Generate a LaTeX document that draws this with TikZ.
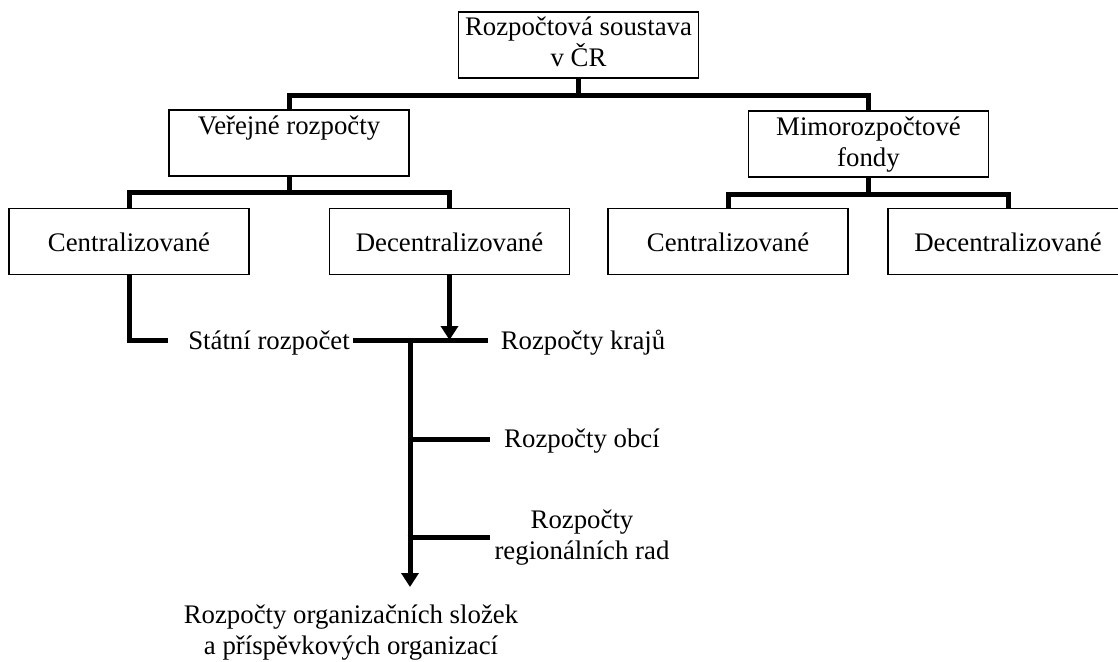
\documentclass[tikz,border=0pt]{standalone}
\usepackage{fontspec}
\setmainfont{Liberation Serif}
\usetikzlibrary{arrows.meta}
\tikzset{
  txt/.style={font=\fontsize{26.8pt}{31pt}\selectfont, inner sep=0pt, outer sep=0pt, align=center},
  tbox/.style={txt, draw, line width=1.3pt, anchor=north west},
  cbox/.style={txt, draw, line width=1.3pt, minimum width=240pt, minimum height=66pt, text height=19pt, text depth=0pt, anchor=north},
  conn/.style={line width=5pt, line join=miter, line cap=butt},
  arr/.style={conn, -{Triangle[width=17pt,length=14pt]}}
}
\newcommand{\topbox}[1]{\parbox[t][66pt][t]{240pt}{\centering\rule{0pt}{24pt}#1}}
\begin{document}
\begin{tikzpicture}[x=1pt,y=-1pt]
\useasboundingbox (0,0) rectangle (1118,661);
\clip (0,0) rectangle (1118,661);
% boxes
\node[tbox] (top) at (458.5,12) {\topbox{Rozpočtová soustava\\v ČR}};
\node[tbox] (ver) at (169,110) {\topbox{Veřejné rozpočty}};
\node[tbox] (mimo) at (748.5,111) {\topbox{Mimorozpočtové\\fondy}};
\node[cbox] (lc) at (129,208.5) {Centralizované};
\node[cbox] (ld) at (449.5,208.5) {Decentralizované};
\node[cbox] (rc) at (728,208.5) {Centralizované};
\node[cbox] (rd) at (1008,208.5) {Decentralizované};
% lower texts
\node[txt, anchor=base] (sr) at (269,349) {Státní rozpočet};
\node[txt, anchor=base] (kr) at (583,349) {Rozpočty krajů};
\node[txt, anchor=base] (ob) at (582,447) {Rozpočty obcí};
\node[txt] (rr) at (582,538) {Rozpočty\\regionálních rad};
\node[txt] (org) at (351,633) {Rozpočty organizačních složek\\a příspěvkových organizací};
% junctions
\path (top.south) ++(0,17) coordinate (j1);
\path (ver.south) ++(0,16) coordinate (j2);
\path (mimo.south) ++(0,17) coordinate (j3);
\coordinate (c1) at (168,340);
\coordinate (k0) at (353,340);
\coordinate (k1) at (488,340);
\coordinate (v0) at (410,340);
\coordinate (v1) at (410,587);
\coordinate (b1) at (410,439);
\coordinate (b1e) at (490,439);
\coordinate (b2) at (410,537);
\coordinate (b2e) at (490,537);
% connectors
\draw[conn] (top.south) -- (j1);
\draw[conn] (ver.north) |- (j1) -| (mimo.north);
\draw[conn] (ver.south) -- (j2);
\draw[conn] (lc.north) |- (j2) -| (ld.north);
\draw[conn] (mimo.south) -- (j3);
\draw[conn] (rc.north) |- (j3) -| (rd.north);
\draw[conn] (lc.south) |- (c1);
\draw[conn] (k0) -- (k1);
\draw[arr] (ld.south) -- (ld.south |- k1);
\draw[arr] ([yshift=-2.5pt]v0) -- (v1);
\draw[conn] ([xshift=-2.5pt]b1) -- (b1e);
\draw[conn] ([xshift=-2.5pt]b2) -- (b2e);
\end{tikzpicture}
\end{document}
